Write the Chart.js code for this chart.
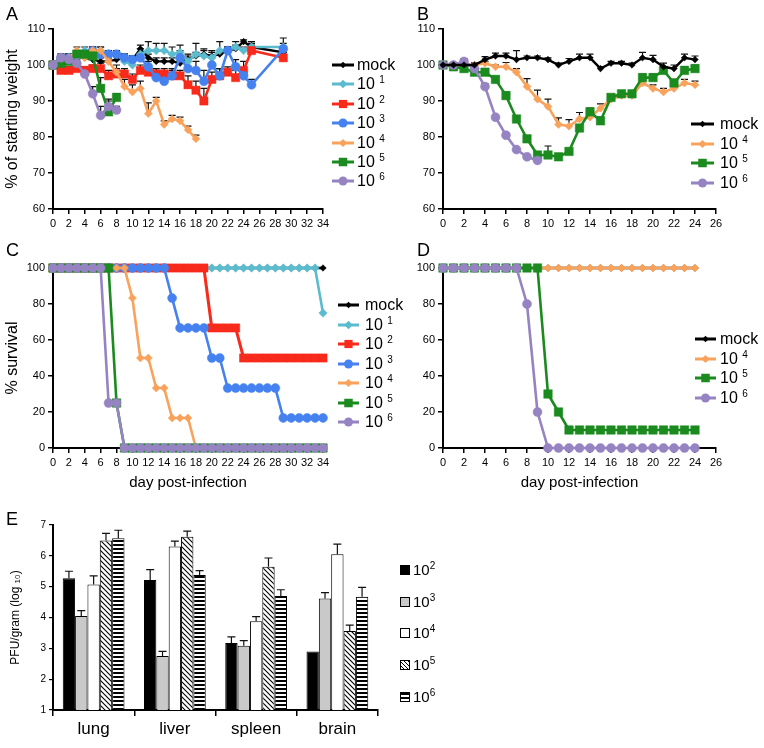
<!DOCTYPE html>
<html><head><meta charset="utf-8">
<script src="https://cdn.jsdelivr.net/npm/chart.js@4.4.1/dist/chart.umd.min.js"></script>
<style>
html,body{margin:0;padding:0;background:#fff}
body{width:764px;height:748px;position:relative;overflow:hidden;font-family:"Liberation Sans",Arial,sans-serif;color:#000}
canvas.full{position:absolute;left:0;top:0;width:764px;height:748px}
.letter{position:absolute;font-size:18px;line-height:18px}
.leg{position:absolute;height:20px;font-size:16px;line-height:20px;white-space:nowrap}
.leg svg{position:absolute;top:0}
.leg span{position:absolute;top:0}
.leg sup{font-size:10px;vertical-align:top;position:relative;top:-4px}
.eleg{position:absolute;font-size:15px;line-height:18px;white-space:nowrap}
.eleg i{position:absolute;left:0;top:4px;width:8px;height:8px;border:1px solid #000;box-sizing:content-box}
.eleg span{position:absolute;left:13px;top:0}
.eleg sup{font-size:10px;vertical-align:top;position:relative;top:-4px}
</style></head><body>
<canvas id="cA" class="full" width="764" height="748"></canvas>
<canvas id="cB" class="full" width="764" height="748"></canvas>
<canvas id="cC" class="full" width="764" height="748"></canvas>
<canvas id="cD" class="full" width="764" height="748"></canvas>
<canvas id="cE" class="full" width="764" height="748"></canvas>
<div class="letter" style="left:6px;top:5px">A</div>
<div class="letter" style="left:417px;top:5px">B</div>
<div class="letter" style="left:6px;top:241px">C</div>
<div class="letter" style="left:417px;top:241px">D</div>
<div class="letter" style="left:6px;top:510px">E</div>
<script>
// ---------- DATA ----------
const seriesNames = ['mock', '1', '2', '3', '4', '5', '6']; // dose exponents (10^n)

// Panel A: weight (% of starting), days
const daysA = [0,1,2,3,4,5,6,7,8,9,10,11,12,13,14,15,16,17,18,19,20,21,22,23,24,25,29];
const mockA = [100,101,102,103,102,101.5,101,101,101.5,102,101.5,104.5,102,101,101,101,100.5,101.5,102.5,103,102.5,103,104,104.5,106.5,105,103.5];
const mockAErr = [0.5,1,1,1,1,1,1,1,1,1,1,1,1,1,1,1,1,1,1,1,1,1,1,1,0.5,1,1];
const d1A = [100,101,102,103,104,104,104,103,103,101,100,103,104,104,104,103,103.5,101,103,102.5,102,104,104,105,104,105,105];
const d1AErr = [0.5,1,1,1,1,1,1,1,1,1.5,1.5,1.5,2.5,2,2,2,2,2,3,2,2,2.5,1,1.5,1,1.5,2.5];
const d2A = [100,98.5,98.5,99,98.5,99,99,97,97.5,97.5,96,98.5,98,97.5,97.5,97,97,94.5,93,90,96,97,98,96.5,98.5,104,102];
const d2AErr = [0.5,1,1,1,1,1,1.5,1.5,1.5,1.5,1.5,1.5,1.5,1.5,1.5,1.5,1.5,2.5,2.5,3.5,2,2,1.5,2,2.5,1.5,1.5];
const d3A = [100,102,102,103,103,104,103,103,103,102,101.5,102,99.5,96.5,95.5,97,102,99,98.5,95.5,100,97,104,99.5,97,94.5,104.5];
const d3AErr = [0.5,1,1,1,1,1,1,1,1,1,1,1,1.5,2,2,2,2,2.5,2.5,3,2,2,1,2,2,1.5,1.5];
const daysA4 = [0,1,2,3,4,5,6,7,8,9,10,11,12,13,14,15,16,17,18];
const d4A = [100,101,102,104,102,104,104,101,98,94,92.5,93.5,86.5,90,83.5,85,84.5,82,79.5];
const d4AErr = [0.5,1,1,1,1,1,1,1.5,2,2,2,2,3,1,1,1,1,1,1];
const daysA56 = [0,1,2,3,4,5,6,7,8];
const d5A = [100,100.5,101,103,103,102.5,93.5,87,91];
const d5AErr = [0.5,1,1,1,1,1,3,3,1];
const d6A = [100,102,101.5,100.5,97.5,92,86,88.5,87.5];
const d6AErr = [0.5,1,1,1,1.5,2,2.5,2,1];

// Panel B: weight, days 0-24
const daysB = [0,1,2,3,4,5,6,7,8,9,10,11,12,13,14,15,16,17,18,19,20,21,22,23,24];
const mockB = [100,100,100,100,101.5,102.5,102.5,101.5,102,102,101.5,100,101,102,102,99,100.5,100.5,100,102,101.5,99.5,99,102,101.5];
const mockBErr = [0.3,0.5,0.5,0.5,0.8,0.8,0.8,2.5,0.5,0.5,0.5,0.5,0.8,1,1,0.5,0.5,0.5,0.5,1.5,1.2,1,1,1,1];
const d4B = [100,100,100,100,100.5,99.5,99.5,98,94,90.5,88.5,83.5,83,85,85.5,88,90.5,91.5,91.5,95,93.5,92.5,93.5,95,94.5];
const d4BErr = [0.3,0.5,0.5,0.5,0.5,0.5,1.2,1,2.2,2.5,2,1.8,1.8,1.8,1,1.2,1,0.8,0.8,1,1,1,1,1,1];
const d5B = [100,99.5,99,98,98,96,91.5,85,79.5,75,75,74.5,76,82.5,87,84.5,91,92,92,96.5,96.5,98.5,95,98.5,99];
const d5BErr = [0.3,0.5,0.5,0.5,0.5,0.5,1,0.5,0.8,0.8,2.5,0.5,0.5,0.8,1,1,0.8,0.5,0.5,1,1,1,1,1,1];
const daysB6 = [0,1,2,3,4,5,6,7,8,9];
const d6B = [100,100,101,99,94,85.5,80.5,76.5,74.5,73.5];
const d6BErr = [0.3,0.5,0.8,0.5,0.8,0.5,0.5,0.5,0.5,0.5];

// Panel C: % survival, days 0-34
const daysC = [0,1,2,3,4,5,6,7,8,9,10,11,12,13,14,15,16,17,18,19,20,21,22,23,24,25,26,27,28,29,30,31,32,33,34];
const mockC = [100,100,100,100,100,100,100,100,100,100,100,100,100,100,100,100,100,100,100,100,100,100,100,100,100,100,100,100,100,100,100,100,100,100,100];
const d1C = [100,100,100,100,100,100,100,100,100,100,100,100,100,100,100,100,100,100,100,100,100,100,100,100,100,100,100,100,100,100,100,100,100,100,75];
const d2C = [100,100,100,100,100,100,100,100,100,100,100,100,100,100,100,100,100,100,100,100,66.7,66.7,66.7,66.7,50,50,50,50,50,50,50,50,50,50,50];
const d3C = [100,100,100,100,100,100,100,100,100,100,100,100,100,100,100,83.3,66.7,66.7,66.7,66.7,50,50,33.3,33.3,33.3,33.3,33.3,33.3,33.3,16.7,16.7,16.7,16.7,16.7,16.7];
const d4C = [100,100,100,100,100,100,100,100,100,100,83.3,50,50,33.3,33.3,16.7,16.7,16.7,0,0,0,0,0,0,0,0,0,0,0,0,0,0,0,0,0];
const d5C = [100,100,100,100,100,100,100,100,25,0,0,0,0,0,0,0,0,0,0,0,0,0,0,0,0,0,0,0,0,0,0,0,0,0,0];
const d6C = [100,100,100,100,100,100,100,25,25,0,0,0,0,0,0,0,0,0,0,0,0,0,0,0,0,0,0,0,0,0,0,0,0,0,0];

// Panel D: % survival, days 0-24
const daysD = [0,1,2,3,4,5,6,7,8,9,10,11,12,13,14,15,16,17,18,19,20,21,22,23,24];
const mockD = [100,100,100,100,100,100,100,100,100,100,100,100,100,100,100,100,100,100,100,100,100,100,100,100,100];
const d4D = [100,100,100,100,100,100,100,100,100,100,100,100,100,100,100,100,100,100,100,100,100,100,100,100,100];
const d5D = [100,100,100,100,100,100,100,100,100,100,30,20,10,10,10,10,10,10,10,10,10,10,10,10,10];
const d6D = [100,100,100,100,100,100,100,100,80,20,0,0,0,0,0,0,0,0,0,0,0,0,0,0,0];

// Panel E: PFU/gram (log10)
const organs = ['lung','liver','spleen','brain'];
const eDoses = ['2','3','4','5','6'];
const e2E = [5.27,5.22,3.17,2.9];  const e2EErr = [0.23,0.33,0.2,0];
const e3E = [4.05,2.75,3.08,4.62]; const e3EErr = [0.17,0.15,0.17,0.19];
const e4E = [5.07,6.3,3.88,6.05];  const e4EErr = [0.28,0.18,0.15,0.33];
const e5E = [6.5,6.62,5.65,3.56];  const e5EErr = [0.23,0.18,0.28,0.19];
const e6E = [6.57,5.38,4.7,4.67];  const e6EErr = [0.26,0.14,0.2,0.31];

// ---------- STYLE ----------
const COL = {mock:'#000000', d1:'#5bbccf', d2:'#f72a1b', d3:'#4682ef', d4:'#f8a25c', d5:'#1b8a1f', d6:'#9583c2'};
const STY = {
  mock:{c:COL.mock, s:'rectRot', r:3.3},
  d1:{c:COL.d1, s:'rectRot', r:4.2},
  d2:{c:COL.d2, s:'rect', r:5.8},
  d3:{c:COL.d3, s:'circle', r:4.5},
  d4:{c:COL.d4, s:'rectRot', r:4},
  d5:{c:COL.d5, s:'rect', r:6},
  d6:{c:COL.d6, s:'circle', r:4.5}
};
Chart.defaults.font.family = '"Liberation Sans", Arial, sans-serif';
Chart.defaults.color = '#000';

const errPlugin = {
  id:'errbars',
  beforeDatasetsDraw(chart){ if(chart.config.type==='line') drawErr(chart); },
  afterDatasetsDraw(chart){ if(chart.config.type==='bar') drawErr(chart); }
};
function drawErr(chart){
  const ctx = chart.ctx, ys = chart.scales.y;
  chart.data.datasets.forEach((ds,i)=>{
    if(!ds.errs) return;
    const meta = chart.getDatasetMeta(i);
    meta.data.forEach((el,j)=>{
      const e = ds.errs[j]; if(!e) return;
      const d = ds.data[j]; const v = (typeof d==='object') ? d.y : d;
      const x = el.x, y0 = el.y, y1 = ys.getPixelForValue(v+e);
      const cap = chart.config.type==='bar' ? 4 : 3.5;
      ctx.save(); ctx.strokeStyle = '#111'; ctx.lineWidth = 1.2;
      ctx.beginPath(); ctx.moveTo(x,y0); ctx.lineTo(x,y1); ctx.moveTo(x-cap,y1); ctx.lineTo(x+cap,y1); ctx.stroke();
      ctx.restore();
    });
  });
}

function pts(xs, ys){ return xs.map((x,i)=>({x:x, y:ys[i]})); }
function ds(key, xs, ys, errs, order, lw){
  const s = STY[key];
  return {label:key, data:pts(xs,ys), errs:errs||null, order:order,
    borderColor:s.c, backgroundColor:s.c, pointBackgroundColor:s.c, pointBorderColor:s.c,
    pointStyle:s.s, pointRadius:s.r, pointBorderWidth:0.5, borderWidth:lw||2.6, tension:0, clip:false};
}
function axisCommon(min,max,step,title,tsize){
  return {type:'linear', min:min, max:max,
    ticks:{stepSize:step, font:{size:11}, padding:3, autoSkip:false, maxRotation:0, color:'#000'},
    grid:{display:true, drawOnChartArea:false, color:'#000', tickLength:5, lineWidth:1.5},
    border:{display:true, color:'#000', width:2},
    title: title ? {display:true, text:title, font:{size:tsize||16}, color:'#000', padding:{top:2,bottom:1}} : {display:false}};
}
function lineChart(id, datasets, xr, yr, ytitle, xtitle){
  return new Chart(document.getElementById(id), {
    type:'line',
    data:{datasets:datasets},
    options:{responsive:false, animation:false, devicePixelRatio:1,
      layout:{padding:{left:0,top:0,right:0,bottom:0}},
      plugins:{legend:{display:false}, tooltip:{enabled:false}},
      scales:{x:axisCommon(xr[0],xr[1],xr[2],xtitle,15), y:axisCommon(yr[0],yr[1],yr[2],ytitle,16)}
    },
    plugins:[errPlugin]
  });
}
function place(chart, t){
  for(let k=0;k<6;k++){
    const a = chart.chartArea;
    const p = Object.assign({}, chart.options.layout.padding);
    const dl=t.l-a.left, dt=t.t-a.top, dr=a.right-t.r, db=a.bottom-t.b;
    if(Math.abs(dl)+Math.abs(dt)+Math.abs(dr)+Math.abs(db) < 0.3) break;
    chart.options.layout.padding = {left:p.left+dl, top:p.top+dt, right:p.right+dr, bottom:p.bottom+db};
    chart.update('none');
  }
}

// ---------- CHARTS ----------
const chA = lineChart('cA', [
  ds('mock', daysA, mockA, mockAErr, 6, 2.4),
  ds('d1', daysA, d1A, d1AErr, 5),
  ds('d2', daysA, d2A, d2AErr, 4),
  ds('d3', daysA, d3A, d3AErr, 3),
  ds('d4', daysA4, d4A, d4AErr, 2),
  ds('d5', daysA56, d5A, d5AErr, 1),
  ds('d6', daysA56, d6A, d6AErr, 0)
], [0,34,2], [60,110,10], '% of starting weight', null);
place(chA, {l:53, r:323, t:29, b:209});

const chB = lineChart('cB', [
  ds('mock', daysB, mockB, mockBErr, 0, 2.4),
  ds('d4', daysB, d4B, d4BErr, 3),
  ds('d5', daysB, d5B, d5BErr, 2),
  ds('d6', daysB6, d6B, d6BErr, 1)
], [0,26,2], [60,110,10], null, null);
place(chB, {l:443, r:716, t:29, b:209});

const chC = lineChart('cC', [
  ds('mock', daysC, mockC, null, 6, 2.4),
  ds('d1', daysC, d1C, null, 5),
  ds('d2', daysC, d2C, null, 4, 3),
  ds('d3', daysC, d3C, null, 3),
  ds('d4', daysC, d4C, null, 2),
  ds('d5', daysC, d5C, null, 1),
  ds('d6', daysC, d6C, null, 0)
], [0,34,2], [0,100,20], '% survival', 'day post-infection');
place(chC, {l:53, r:323, t:268, b:448});

const chD = lineChart('cD', [
  ds('mock', daysD, mockD, null, 3, 2.4),
  ds('d4', daysD, d4D, null, 2),
  ds('d5', daysD, d5D, null, 1),
  ds('d6', daysD, d6D, null, 0)
], [0,26,2], [0,100,20], null, 'day post-infection');
place(chD, {l:443, r:716, t:268, b:448});

// patterns for panel E
function hatch(){
  const c=document.createElement('canvas'); c.width=5; c.height=5; const g=c.getContext('2d');
  g.fillStyle='#fff'; g.fillRect(0,0,5,5); g.strokeStyle='#000'; g.lineWidth=1.1;
  g.beginPath(); g.moveTo(-1,-1); g.lineTo(6,6); g.moveTo(-1,4); g.lineTo(1,6); g.moveTo(4,-1); g.lineTo(6,1); g.stroke();
  return g.createPattern(c,'repeat');
}
function stripes(){
  const c=document.createElement('canvas'); c.width=4; c.height=4; const g=c.getContext('2d');
  g.fillStyle='#fff'; g.fillRect(0,0,4,4); g.fillStyle='#000'; g.fillRect(0,0,4,2);
  return g.createPattern(c,'repeat');
}
const eFills = ['#000000', '#c9c9c9', '#ffffff', hatch(), stripes()];
const eVals = [e2E, e3E, e4E, e5E, e6E];
const eErrs = [e2EErr, e3EErr, e4EErr, e5EErr, e6EErr];
const chE = new Chart(document.getElementById('cE'), {
  type:'bar',
  data:{labels:organs, datasets:eDoses.map((d,i)=>({label:'10^'+d, data:eVals[i], errs:eErrs[i],
    backgroundColor:eFills[i], borderColor:'#000', borderWidth:1, categoryPercentage:0.76, barPercentage:1.0}))},
  options:{responsive:false, animation:false, devicePixelRatio:1,
    layout:{padding:{left:0,top:0,right:0,bottom:0}},
    plugins:{legend:{display:false}, tooltip:{enabled:false}},
    scales:{
      x:{type:'category', ticks:{font:{size:17}, padding:3, color:'#000'},
        grid:{display:true, drawOnChartArea:false, offset:true, color:'#000', tickLength:6, lineWidth:1.5},
        border:{display:true, color:'#000', width:2}},
      y:{type:'linear', min:1, max:7, ticks:{stepSize:1, font:{size:10}, padding:3, color:'#000'},
        grid:{display:true, drawOnChartArea:false, color:'#000', tickLength:4, lineWidth:1.2},
        border:{display:true, color:'#000', width:2},
        title:{display:true, text:'PFU/gram (log \u2081\u2080)', font:{size:12}, color:'#000', padding:{top:2,bottom:15}}}
    }
  },
  plugins:[errPlugin]
});
place(chE, {l:53, r:378, t:525, b:710});

// ---------- HTML LEGENDS ----------
function markerSvg(key, w){
  const s = STY[key], cy = 10, cx = w/2;
  let m;
  if(s.s==='circle') m = `<circle cx="${cx}" cy="${cy}" r="${s.r}" fill="${s.c}"/>`;
  else if(s.s==='rect'){ const h = s.r*0.7071; m = `<rect x="${cx-h}" y="${cy-h}" width="${2*h}" height="${2*h}" fill="${s.c}"/>`; }
  else m = `<polygon points="${cx},${cy-s.r} ${cx+s.r},${cy} ${cx},${cy+s.r} ${cx-s.r},${cy}" fill="${s.c}"/>`;
  return `<svg width="${w}" height="20"><line x1="0" y1="10" x2="${w}" y2="10" stroke="${s.c}" stroke-width="3"/>${m}</svg>`;
}
function legend(keys, x0, lineW, textX, y0, dy){
  keys.forEach((k,i)=>{
    const div = document.createElement('div'); div.className='leg';
    div.style.left = x0+'px'; div.style.top = (y0 + i*dy - 10)+'px';
    const n = seriesNames[k==='mock'?0:+k.slice(1)];
    const txt = k==='mock' ? 'mock' : '10 <sup>'+n+'</sup>';
    div.innerHTML = markerSvg(k, lineW) + `<span style="left:${textX-x0}px">${txt}</span>`;
    document.body.appendChild(div);
  });
}
legend(['mock','d1','d2','d3','d4','d5','d6'], 332, 22, 357, 65, 19.4);
legend(['mock','d4','d5','d6'], 691, 23, 720, 124, 19.5);
legend(['mock','d1','d2','d3','d4','d5','d6'], 338, 21, 365, 305, 19.5);
legend(['mock','d4','d5','d6'], 695, 21, 720, 339, 19.5);

const eCss = ['background:#000', 'background:#c9c9c9', 'background:#fff',
  'background:repeating-linear-gradient(45deg,#fff 0 1.6px,#000 1.6px 2.8px)',
  'background:repeating-linear-gradient(180deg,#000 0 2px,#fff 2px 4px)'];
eDoses.forEach((d,i)=>{
  const div = document.createElement('div'); div.className='eleg';
  div.style.left='400px'; div.style.top=(570 + i*31.7 - 9)+'px';
  div.innerHTML = `<i style="${eCss[i]}"></i><span>10<sup>${d}</sup></span>`;
  document.body.appendChild(div);
});
</script>
</body></html>
